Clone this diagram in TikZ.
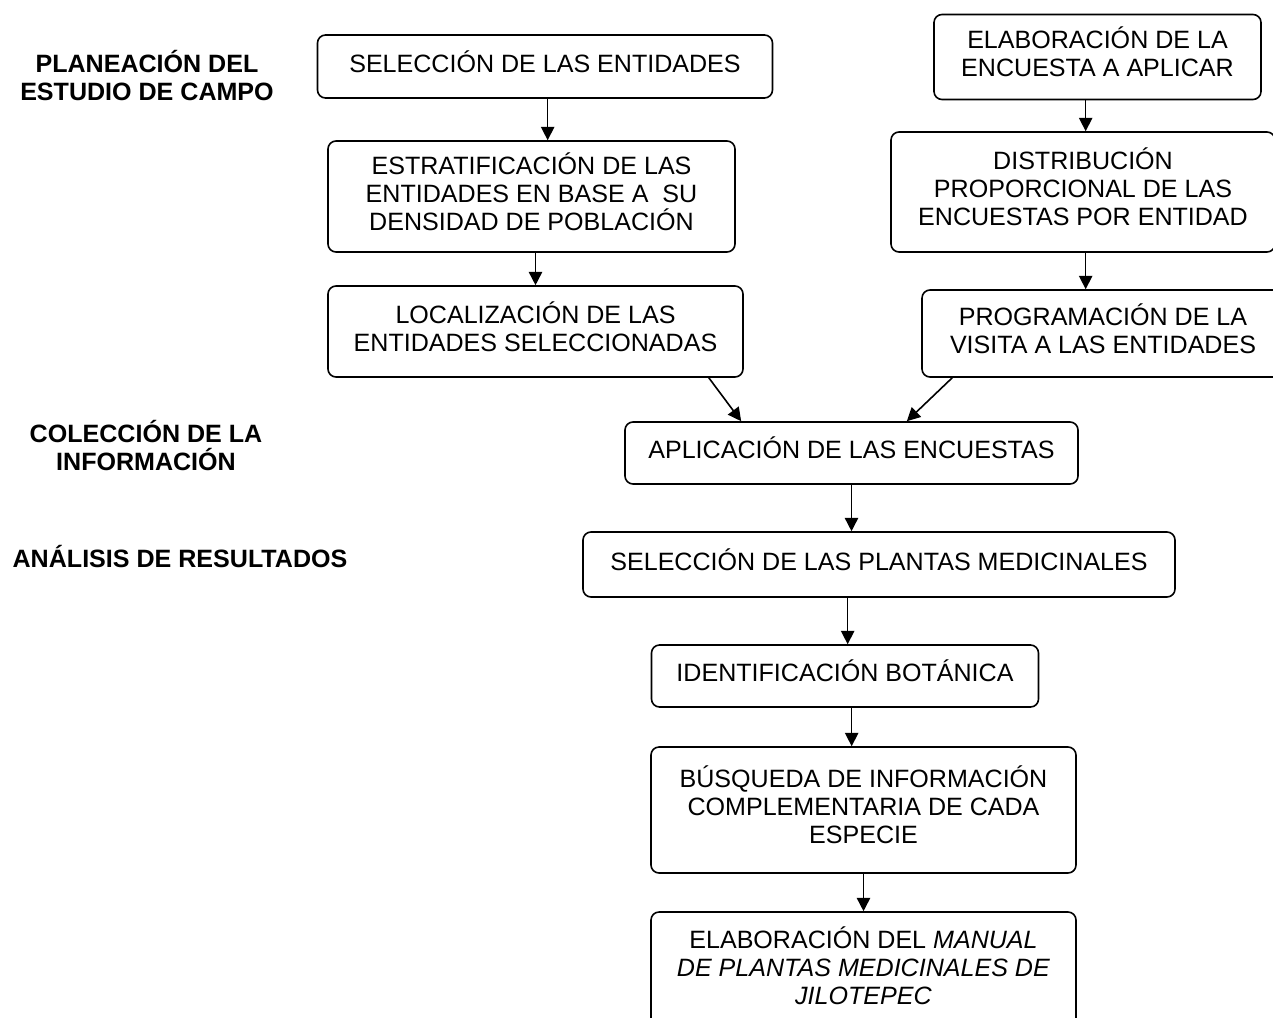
\documentclass[tikz,border=0pt]{standalone}
\usepackage{fontspec}
\setmainfont{Liberation Sans}
\usetikzlibrary{calc,arrows.meta}

\begin{document}
\begin{tikzpicture}
	[   x=0.75pt,y=-0.75pt,
	    caja/.style 2 args={draw=black,line width=1.2pt,rounded corners=6pt,align=center,
	      font=\fontsize{18.8}{21}\selectfont,text depth=8pt,
	      minimum width=#1*0.75pt,minimum height=#2*0.75pt},
	    etapa/.style={align=center,font=\fontsize{18.8}{21}\selectfont\bfseries},
	]
	\tikzset{normal arrow/.style={draw,line width=1.2pt,-{Triangle[length=10pt,width=10pt]}}}
	\useasboundingbox (0,0) rectangle (1273,1017);
	
	\node[etapa] (plan) at (147,76) {PLANEACIÓN DEL\\ESTUDIO DE CAMPO};
	\node[etapa] (cole) at (146,446) {COLECCIÓN DE LA\\INFORMACIÓN};
	\node[etapa] (anal) at (180,557) {ANÁLISIS DE RESULTADOS};
	
	\node[caja={455}{63}] (sel) at (545,66.5) {SELECCIÓN DE LAS ENTIDADES};
	\node[caja={407}{111}] (est) at (531.5,196.5) {ESTRATIFICACIÓN DE LAS\\ENTIDADES EN BASE A \ SU\\DENSIDAD DE POBLACIÓN};
	\node[caja={415}{91}] (loc) at (535.5,331.5) {LOCALIZACIÓN DE LAS\\ENTIDADES SELECCIONADAS};
	
	\node[caja={327}{85}] (elab) at (1097.5,57) {ELABORACIÓN DE LA\\ENCUESTA A APLICAR};
	\node[caja={384}{120}] (dist) at (1083,192) {DISTRIBUCIÓN\\PROPORCIONAL DE LAS\\ENCUESTAS POR ENTIDAD};
	\node[caja={362}{87}] (prog) at (1103,333.5) {PROGRAMACIÓN DE LA\\VISITA A LAS ENTIDADES};
	
	\node[caja={453}{62}] (apl) at (851.5,453) {APLICACIÓN DE LAS ENCUESTAS};
	\node[caja={592}{65}] (selp) at (879,564.5) {SELECCIÓN DE LAS PLANTAS MEDICINALES};
	\node[caja={387}{62}] (ident) at (845,676) {IDENTIFICACIÓN BOTÁNICA};
	\node[caja={425}{126}] (busq) at (863.5,810) {BÚSQUEDA DE INFORMACIÓN\\COMPLEMENTARIA DE CADA\\ESPECIE};
	\node[caja={425}{118}] (man) at (863.5,971) {ELABORACIÓN DEL \textit{MANUAL}\\\textit{DE PLANTAS MEDICINALES DE}\\\textit{JILOTEPEC}};
	
	\path[normal arrow] ([xshift=2pt]sel.south) -- ([xshift=2pt]sel.south |- est.north);
	\path[normal arrow] ([xshift=3pt]est.south) -- ([xshift=3pt]est.south |- loc.north);
	\path[normal arrow] ([xshift=2pt]dist.north |- elab.south) -- ([xshift=2pt]dist.north);
	\path[normal arrow] ([xshift=2pt]dist.south) -- ([xshift=2pt]dist.south |- prog.north);
	\path[normal arrow] ($(loc.south east)+(-35,0)$) -- ($(apl.north west)+(117,0)$);
	\path[normal arrow] ($(prog.south west)+(31,0)$) -- ($(apl.north east)+(-172,0)$);
	\path[normal arrow] (apl.south) -- (apl.south |- selp.north);
	\path[normal arrow] ([xshift=2pt]ident.north |- selp.south) -- ([xshift=2pt]ident.north);
	\path[normal arrow] ([xshift=5pt]ident.south) -- ([xshift=5pt]ident.south |- busq.north);
	\path[normal arrow] (busq.south) -- (man.north);
\end{tikzpicture}
\end{document}
